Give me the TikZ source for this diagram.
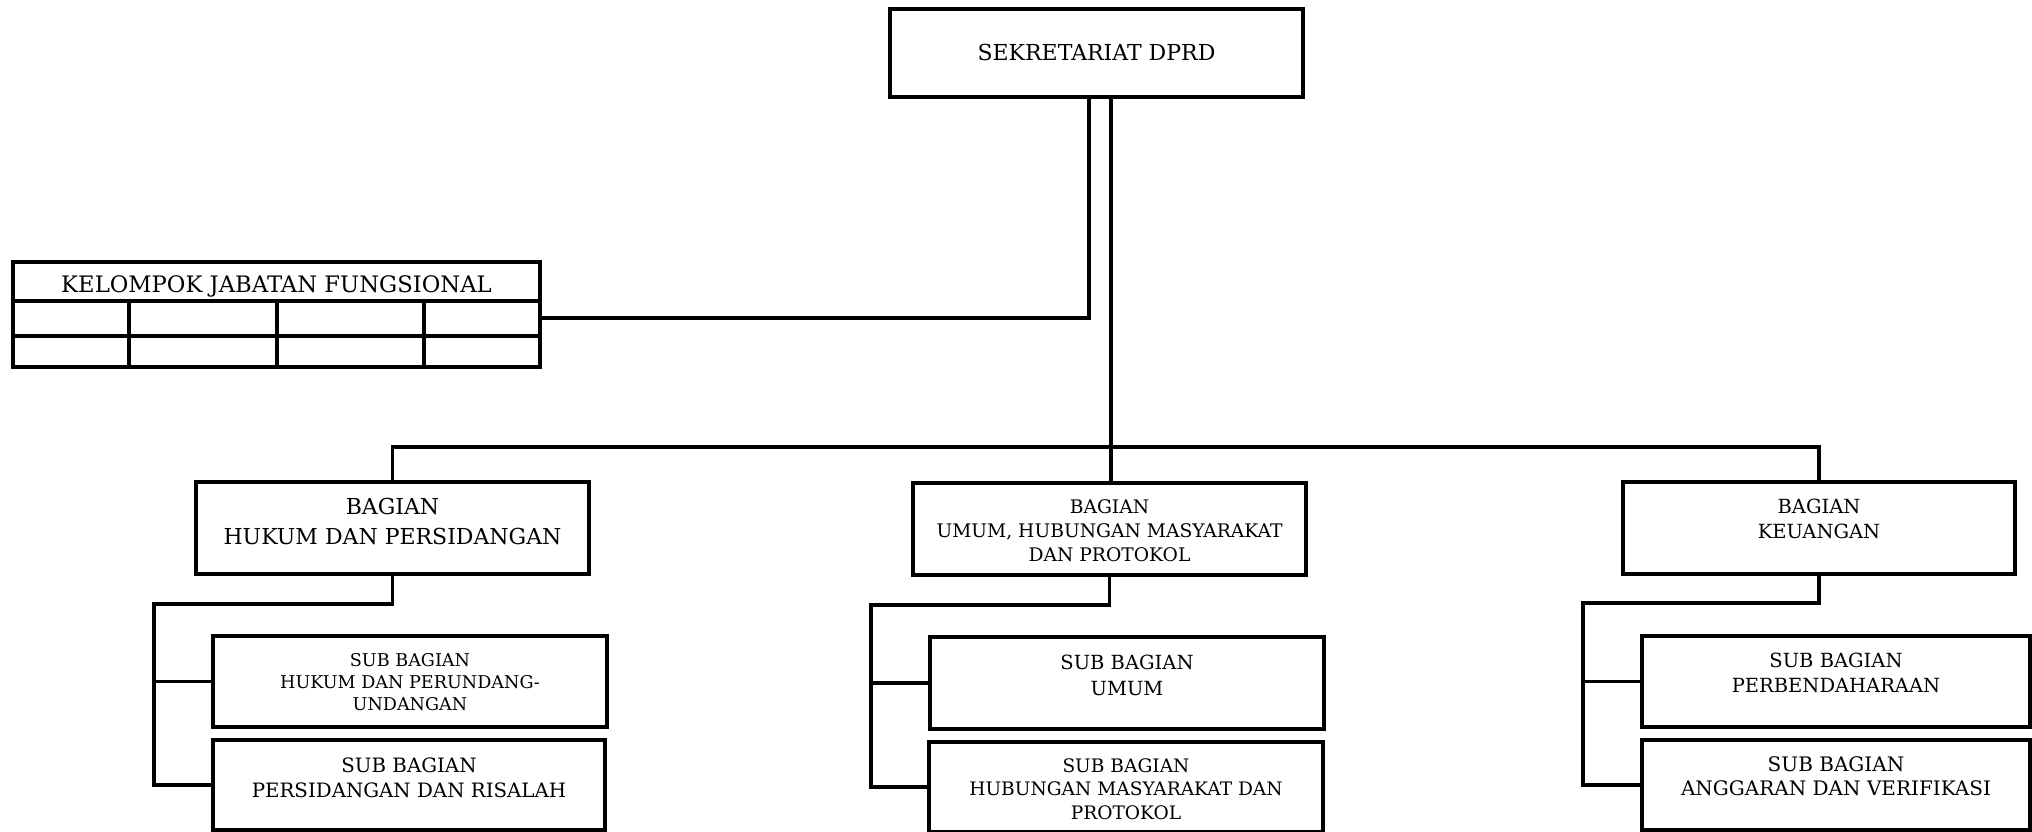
\documentclass[tikz,border=0pt]{standalone}
\usepackage{fontspec}
\setmainfont{DejaVu Serif}
\usetikzlibrary{calc}
% width, height, top pad, font size, line skip, text
\newcommand{\bt}[6]{\parbox[c][#2][t]{#1}{\fontsize{#4}{#5}\selectfont\centering\vspace*{#3}#6\par}}
\begin{document}
\begin{tikzpicture}[x=1pt,y=-1pt,
  box/.style={draw,line width=3.5pt,inner sep=0pt,outer sep=0pt,rectangle},
  conn/.style={line width=3.5pt},
  grid/.style={line width=3.5pt}]
\useasboundingbox (0,0) rectangle (2032,832);
\clip (0,0) rectangle (2032,832);

% top
\node[box] (top) at (1096.5,53) {\bt{413pt}{88pt}{35pt}{22}{26}{SEKRETARIAT DPRD}};

% functional group table
\node[box] (kjf) at (276.5,314.5) {\bt{527pt}{105pt}{14pt}{22.7}{26}{KELOMPOK JABATAN FUNGSIONAL}};
\coordinate (r1) at (0,301);
\coordinate (r2) at (0,336);
\coordinate (c1) at (129,0);
\coordinate (c2) at (277,0);
\coordinate (c3) at (424,0);
\draw[grid] (kjf.west |- r1) -- (kjf.east |- r1);
\draw[grid] (kjf.west |- r2) -- (kjf.east |- r2);
\foreach \c in {c1,c2,c3} \draw[grid] (\c |- r1) -- (\c |- kjf.south);

% bagian
\node[box] (b1) at (392.5,528) {\bt{393pt}{92pt}{16pt}{22}{30.5}{BAGIAN\\HUKUM DAN PERSIDANGAN}};
\node[box] (b2) at (1109.5,529) {\bt{393pt}{92pt}{16.4pt}{18.7}{24}{BAGIAN\\UMUM, HUBUNGAN MASYARAKAT\\DAN PROTOKOL}};
\node[box] (b3) at (1819,528) {\bt{392pt}{92pt}{16.8pt}{19.5}{25}{BAGIAN\\KEUANGAN}};

% sub bagian
\node[box] (s11) at (410,681.5) {\bt{394pt}{91pt}{17.2pt}{17.6}{22}{SUB BAGIAN\\HUKUM DAN PERUNDANG-\\UNDANGAN}};
\node[box] (s12) at (409,785) {\bt{392pt}{90pt}{17.6pt}{19.8}{25}{SUB BAGIAN\\PERSIDANGAN DAN RISALAH}};
\node[box] (s21) at (1127,683) {\bt{394pt}{92pt}{17.8pt}{19.5}{26}{SUB BAGIAN\\UMUM}};
\node[box] (s22) at (1126,787) {\bt{394pt}{90pt}{16.4pt}{18.6}{23.5}{SUB BAGIAN\\HUBUNGAN MASYARAKAT DAN\\PROTOKOL}};
\node[box] (s31) at (1836,681.5) {\bt{388pt}{91pt}{16.8pt}{19.5}{25}{SUB BAGIAN\\PERBENDAHARAAN}};
\node[box] (s32) at (1836,785) {\bt{388pt}{90pt}{16.4pt}{20}{24}{SUB BAGIAN\\ANGGARAN DAN VERIFIKASI}};

% connectors from top
\coordinate (kb) at (1089,318);
\draw[conn] (top.south -| kb) -- (kb) -- (kjf.east |- kb);
\coordinate (tk) at (1111,447);
\draw[conn] (top.south -| tk) -- (tk) -- (tk |- b2.north);
\draw[conn] (b1.north) -- (b1.north |- tk) -- (b3.north |- tk) -- (b3.north);

% sub connectors
\coordinate (p1) at (154,604);
\coordinate (p2) at (871,605);
\coordinate (p3) at (1583,603);
\draw[conn] (b1.south) -- (b1.south |- p1) -- (p1) |- (s12.west);
\draw[conn] (s11.west) -- (s11.west -| p1);
\draw[conn] (b2.south) -- (b2.south |- p2) -- (p2) |- (s22.west);
\draw[conn] (s21.west) -- (s21.west -| p2);
\draw[conn] (b3.south) -- (b3.south |- p3) -- (p3) |- (s32.west);
\draw[conn] (s31.west) -- (s31.west -| p3);
\end{tikzpicture}
\end{document}
